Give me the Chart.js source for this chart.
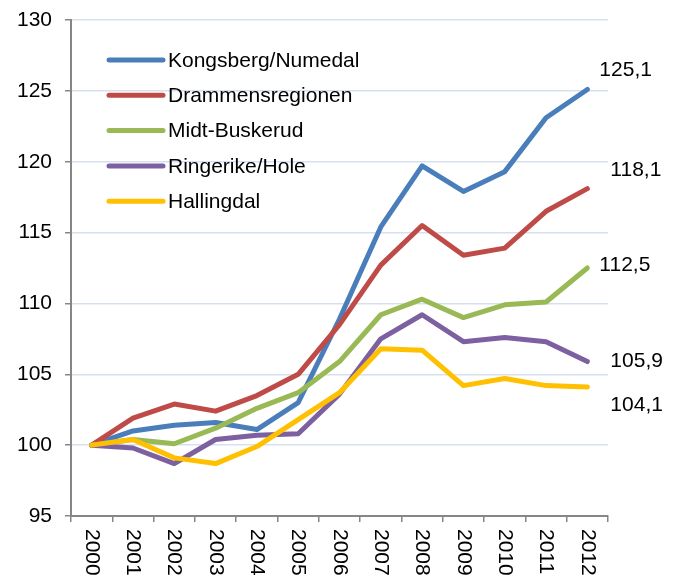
<!DOCTYPE html>
<html>
<head>
<meta charset="utf-8">
<script src="https://cdn.jsdelivr.net/npm/chart.js@4"></script>
<style>
  body { margin: 0; background: #fff; }
  #wrap { width: 681px; height: 575px; position: relative; }
</style>
</head>
<body>
<div id="wrap"><canvas id="chart"></canvas></div>
<script>
// Data
const years = ['2000', '2001', '2002', '2003', '2004', '2005', '2006', '2007', '2008', '2009', '2010', '2011', '2012'];
const kongsberg = [100, 101.0, 101.4, 101.6, 101.1, 103.0, 108.9, 115.4, 119.7, 117.9, 119.3, 123.1, 125.1];
const drammen = [100, 101.9, 102.9, 102.4, 103.5, 105.0, 108.5, 112.7, 115.5, 113.4, 113.9, 116.5, 118.1];
const midtBuskerud = [100, 100.4, 100.1, 101.2, 102.6, 103.7, 105.9, 109.2, 110.3, 109.0, 109.9, 110.1, 112.5];
const ringerike = [100, 99.8, 98.7, 100.4, 100.7, 100.8, 103.6, 107.5, 109.2, 107.3, 107.6, 107.3, 105.9];
const hallingdal = [100, 100.4, 99.1, 98.7, 99.9, 101.8, 103.7, 106.8, 106.7, 104.2, 104.7, 104.2, 104.1];
const yTicks = [95, 100, 105, 110, 115, 120, 125, 130];

const seriesNames = ['Kongsberg/Numedal', 'Drammensregionen', 'Midt-Buskerud', 'Ringerike/Hole', 'Hallingdal'];
const seriesValues = [kongsberg, drammen, midtBuskerud, ringerike, hallingdal];
const seriesColors = ['#4a7ebb', '#be4b48', '#98b954', '#7d60a0', '#ffc000'];

// Placement of the end-value labels, relative to the last point (px)
const endLabelDx = [12, 23, 12, 23, 23];
const endLabelDy = [-19, -18, -3, 0, 18];

const FONT = "'Liberation Sans', Arial, sans-serif";
const AXIS_GRAY = '#868686';

const datasets = seriesNames.map((name, i) => ({
    label: name,
    data: seriesValues[i],
    borderColor: seriesColors[i],
    backgroundColor: seriesColors[i],
    borderWidth: 5,
    pointRadius: 0,
    tension: 0,
    borderCapStyle: 'round',
    borderJoinStyle: 'round',
    order: seriesNames.length - i   // later series drawn on top
}));

// Legend inside the plot, x labels rotated clockwise, end values on the right
const extrasPlugin = {
    id: 'extras',
    afterDraw(chart) {
        const ctx = chart.ctx;
        const xs = chart.scales.x;
        const ys = chart.scales.y;
        ctx.save();
        ctx.fillStyle = '#000';
        ctx.font = `21px ${FONT}`;

        // legend
        seriesNames.forEach((name, i) => {
            const y = 60 + i * 35.3;
            ctx.strokeStyle = seriesColors[i];
            ctx.lineWidth = 5;
            ctx.lineCap = 'round';
            ctx.beginPath();
            ctx.moveTo(109, y);
            ctx.lineTo(163, y);
            ctx.stroke();
            ctx.textAlign = 'left';
            ctx.textBaseline = 'middle';
            ctx.fillText(name, 168, y + 1);
        });

        // x labels
        years.forEach((yr, i) => {
            const x = xs.getPixelForValue(i);
            ctx.save();
            ctx.translate(x, ys.bottom + 13);
            ctx.rotate(Math.PI / 2);
            ctx.textAlign = 'left';
            ctx.textBaseline = 'middle';
            ctx.fillText(yr, 0, 0);
            ctx.restore();
        });

        // end values
        seriesValues.forEach((vals, i) => {
            const last = vals[vals.length - 1];
            const px = xs.getPixelForValue(vals.length - 1);
            const py = ys.getPixelForValue(last);
            ctx.textAlign = 'left';
            ctx.textBaseline = 'middle';
            ctx.fillText(last.toFixed(1).replace('.', ','), px + endLabelDx[i], py + endLabelDy[i]);
        });
        ctx.restore();
    }
};

new Chart(document.getElementById('chart'), {
    type: 'line',
    data: { labels: years, datasets: datasets },
    options: {
        responsive: true,
        maintainAspectRatio: false,
        animation: false,
        layout: { padding: { top: 20, right: 73, left: 0, bottom: 0 } },
        plugins: {
            legend: { display: false },
            tooltip: { enabled: false }
        },
        scales: {
            x: {
                offset: true,
                grid: {
                    offset: true,
                    drawOnChartArea: false,
                    drawTicks: true,
                    tickLength: 6,
                    color: AXIS_GRAY,
                    lineWidth: 1.5
                },
                border: { color: AXIS_GRAY, width: 2 },
                ticks: { color: 'rgba(0,0,0,0)', autoSkip: false, maxRotation: 0, font: { size: 12 } },
                afterFit(scale) {
                    scale.height = 59;
                    scale.paddingLeft = 0;
                    scale.paddingRight = 0;
                }
            },
            y: {
                min: yTicks[0],
                max: yTicks[yTicks.length - 1],
                afterBuildTicks(scale) { scale.ticks = yTicks.map(v => ({ value: v })); },
                grid: {
                    color: '#d7e0ee',
                    lineWidth: 1.5,
                    tickColor: AXIS_GRAY,
                    tickLength: 6
                },
                border: { color: AXIS_GRAY, width: 2 },
                ticks: {
                    color: '#000',
                    padding: 13,
                    font: { family: FONT, size: 21 }
                },
                afterFit(scale) {
                    scale.width = 71;
                    scale.paddingTop = 0;
                    scale.paddingBottom = 0;
                }
            }
        }
    },
    plugins: [extrasPlugin]
});
</script>
</body>
</html>
